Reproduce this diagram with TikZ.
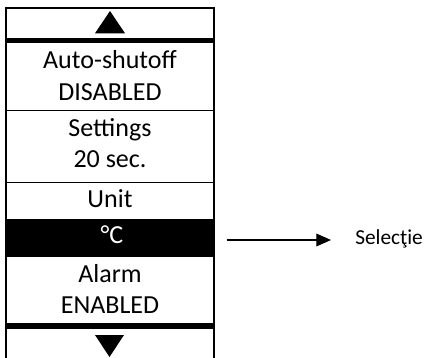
\documentclass[tikz,border=0pt]{standalone}
\usepackage{fontspec}
\setmainfont{Carlito}
\usetikzlibrary{positioning,arrows.meta}

\begin{document}
\begin{tikzpicture}[x=0.75pt,y=-0.75pt,>={Triangle[length=11pt,width=9.5pt]},
    item/.style={anchor=base,inner sep=0pt,font=\fontsize{19.5}{23}\selectfont},
    label/.style={anchor=base west,inner sep=0pt,font=\fontsize{16}{19}\selectfont},
    frame/.style={line width=1.5pt},
    sep/.style={line width=1.1pt},
    bar/.style={line width=4.3pt}]

  \useasboundingbox (0,0) rectangle (430,358);

  % Menu frame (open at the bottom)
  \draw[frame] (6.5,358) -- (6.5,7.5) -- (214,7.5) -- (214,358);

  % Scroll bars and row separators
  \draw[bar] (6.5,40.5) -- (214,40.5);
  \draw[bar] (6.5,326) -- (214,326);
  \draw[sep] (6.5,110.5) -- (214,110.5);
  \draw[sep] (6.5,182.7) -- (214,182.7);

  % Highlighted row
  \fill[black] (6.5,219) rectangle (214,257);

  % Scroll arrows
  \fill (95,33.3) -- (125,33.3) -- (110,11) -- cycle;
  \fill (95,335) -- (124,335) -- (109.5,357) -- cycle;

  % Menu entries
  \node[item] (auto) at (110,68) {Auto-shutoff};
  \node[item] (autoval) at (110,100) {DISABLED};
  \node[item] (set) at (110,136.5) {Settings};
  \node[item] (setval) at (110,167) {20 sec.};
  \node[item] (unit) at (110,207) {Unit};
  \node[item,text=white] (unitval) at (112,243) {°C};
  \node[item] (alarm) at (110,282) {Alarm};
  \node[item] (alarmval) at (110,313) {ENABLED};

  % Selection pointer
  \node[label] (sel) at (355,244) {Selecţie};
  \coordinate (selstart) at (226.7,240);
  \draw[->,line width=1pt,shorten >=18pt] (selstart) -- (selstart -| sel.west);

\end{tikzpicture}
\end{document}
